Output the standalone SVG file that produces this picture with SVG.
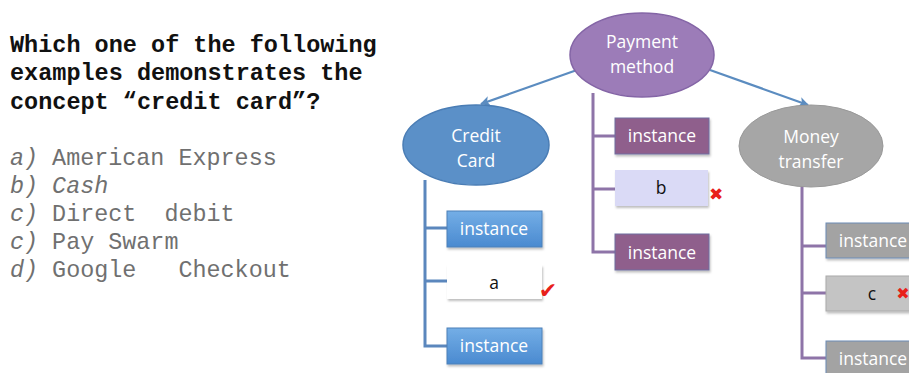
<svg xmlns="http://www.w3.org/2000/svg" width="909" height="373" viewBox="0 0 909 373">
<defs>
<linearGradient id="gBlue" x1="0" y1="0" x2="0" y2="1"><stop offset="0" stop-color="#74aee6"/><stop offset="1" stop-color="#4a8ad0"/></linearGradient>
<marker id="ah" viewBox="0 0 10 10" refX="9" refY="5" markerWidth="4.5" markerHeight="4.5" orient="auto"><path d="M0,0 L10,5 L0,10 L2.5,5 z" fill="#5b8cc0"/></marker>
<filter id="sh" x="-10%" y="-10%" width="130%" height="140%"><feDropShadow dx="1" dy="2" stdDeviation="1.2" flood-color="#000" flood-opacity="0.25"/></filter>
</defs>
<style>
.q{font-family:"Liberation Mono",monospace;font-size:23.5px;font-weight:bold;fill:#111}
.o{font-family:"Liberation Mono",monospace;font-size:23.4px;fill:#707070;white-space:pre}
.i{font-style:italic}
.nt{font-family:"Open Sans","Liberation Sans",sans-serif;font-size:17.5px;fill:#fff;text-anchor:middle}
.bt{font-family:"Open Sans","Liberation Sans",sans-serif;font-size:17.5px;fill:#111;text-anchor:middle}
.blu{fill:url(#gBlue);stroke:#4d80b8;stroke-width:1}
.pur{fill:#8f5e8c;stroke:#6f6fa0;stroke-width:1}
.gry{fill:#a3a3a3;stroke:#6d8cb5;stroke-width:1}
.cb{fill:none;stroke-width:3}
.mk{font-family:"DejaVu Sans",sans-serif;fill:#e8201a;text-anchor:middle}
</style>

<g id="question">
<text class="q" x="10" y="52">Which one of the following</text>
<text class="q" x="10" y="80">examples demonstrates the</text>
<text class="q" x="10" y="109">concept “credit card”?</text>
<text class="o" x="10" y="165" xml:space="preserve"><tspan class="i">a)</tspan> American Express</text>
<text class="o i" x="10" y="193" xml:space="preserve">b) Cash</text>
<text class="o" x="10" y="221" xml:space="preserve"><tspan class="i">c)</tspan> Direct  debit</text>
<text class="o" x="10" y="249" xml:space="preserve"><tspan class="i">c)</tspan> Pay Swarm</text>
<text class="o" x="10" y="277" xml:space="preserve"><tspan class="i">d)</tspan> Google   Checkout</text>
</g>

<g id="connectors">
<path d="M577,70 L481,104" stroke="#5b8cc0" stroke-width="2.2" fill="none" marker-end="url(#ah)"/>
<path d="M710,70 L808,105" stroke="#5b8cc0" stroke-width="2.2" fill="none" marker-end="url(#ah)"/>
<path class="cb" stroke="#5b87bd" d="M425,180 V346 H447 M425,228 H447 M425,281 H447"/>
<path class="cb" stroke="#8e74a8" d="M593,93 V252 H615 M593,136 H615 M593,189 H615"/>
<path class="cb" stroke="#8e74a8" d="M802,187 V358 H826 M802,246 H826 M802,293 H826"/>
</g>

<g id="payment-method">
<ellipse cx="642" cy="55" rx="72" ry="42" fill="#9c7cb8" stroke="#8465a6" stroke-width="1.5"/>
<text class="nt" x="642" y="48" font-size="18">Payment</text>
<text class="nt" x="642" y="73" font-size="18">method</text>
</g>

<g id="credit-card">
<ellipse cx="476" cy="145" rx="73" ry="40" fill="#5b90c8" stroke="#4a7db5" stroke-width="1.5"/>
<text class="nt" x="476" y="142" font-size="18">Credit</text>
<text class="nt" x="476" y="167" font-size="18">Card</text>
</g>

<g id="money-transfer">
<ellipse cx="811" cy="146" rx="72" ry="41" fill="#a6a6a6" stroke="#999" stroke-width="1"/>
<text class="nt" x="811" y="143" font-size="18">Money</text>
<text class="nt" x="811" y="168" font-size="18">transfer</text>
</g>

<g id="cc-instance-1">
<rect class="blu" x="447" y="211" width="95" height="36" filter="url(#sh)"/>
<text class="nt" x="494" y="235">instance</text>
</g>
<g id="cc-a">
<rect x="447" y="265" width="95" height="34" fill="#fff" filter="url(#sh)"/>
<text class="bt" x="494" y="289">a</text>
<text class="mk" x="548" y="298" font-size="22">✔</text>
</g>
<g id="cc-instance-2">
<rect class="blu" x="447" y="328" width="95" height="36" filter="url(#sh)"/>
<text class="nt" x="494" y="352">instance</text>
</g>

<g id="pm-instance-1">
<rect class="pur" x="615" y="118" width="94" height="36" filter="url(#sh)"/>
<text class="nt" x="662" y="142">instance</text>
</g>
<g id="pm-b">
<rect x="615" y="170" width="93" height="36" fill="#dadaf6" filter="url(#sh)"/>
<text class="bt" x="661" y="194">b</text>
<text class="mk" x="716" y="200" font-size="17">✖</text>
</g>
<g id="pm-instance-2">
<rect class="pur" x="615" y="234" width="94" height="36" filter="url(#sh)"/>
<text class="nt" x="662" y="259">instance</text>
</g>

<g id="mt-instance-1">
<rect class="gry" x="826" y="223" width="95" height="35" filter="url(#sh)"/>
<text class="nt" x="873" y="247">instance</text>
</g>
<g id="mt-c">
<rect x="826" y="276" width="95" height="35" fill="#c4c4c4" stroke="#aaa" stroke-width="1" filter="url(#sh)"/>
<text class="bt" x="872" y="300">c</text>
<text class="mk" x="903" y="299" font-size="16">✖</text>
</g>
<g id="mt-instance-2">
<rect class="gry" x="826" y="341" width="95" height="36" filter="url(#sh)"/>
<text class="nt" x="873" y="365">instance</text>
</g>
</svg>
